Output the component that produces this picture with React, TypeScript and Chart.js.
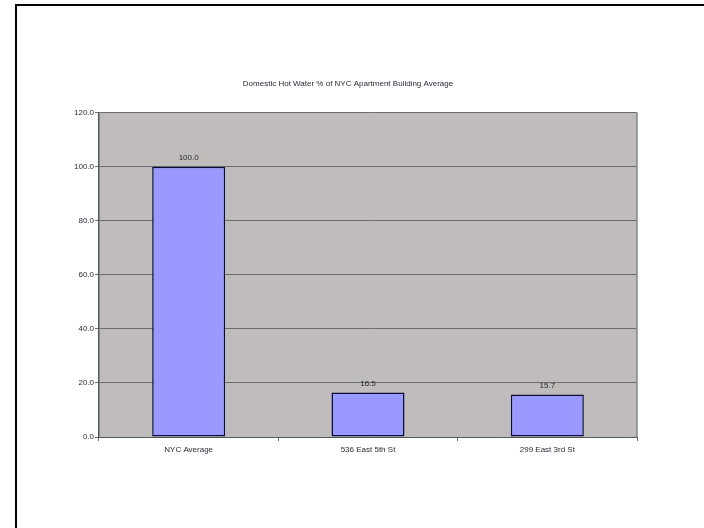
import React, { useEffect, useRef } from "react";
import { Chart, registerables } from "chart.js";

Chart.register(...registerables);

const TITLE = "Domestic Hot Water % of NYC Apartment Building Average";
const CATEGORIES = ["NYC Average", "536 East 5th St", "299 East 3rd St"];
const VALUES = [100.0, 16.5, 15.7];
const Y_MIN = 0;
const Y_MAX = 120;
const Y_STEP = 20;

const FONT = "'Liberation Sans', Arial, sans-serif";
const TEXT = "#1e2530";

const plotBg = {
  id: "plotBg",
  beforeDraw(chart: any) {
    const { ctx, chartArea } = chart;
    ctx.save();
    ctx.fillStyle = "#c0bcbc";
    ctx.fillRect(chartArea.left, chartArea.top, chartArea.right - chartArea.left, chartArea.bottom - chartArea.top);
    ctx.restore();
  },
  afterDraw(chart: any) {
    const { ctx, chartArea } = chart;
    ctx.save();
    ctx.strokeStyle = "#7f8890";
    ctx.lineWidth = 1.5;
    ctx.beginPath();
    ctx.moveTo(chartArea.right, chartArea.top);
    ctx.lineTo(chartArea.right, chartArea.bottom);
    ctx.stroke();
    ctx.restore();
  },
};

const valueLabels = {
  id: "valueLabels",
  afterDatasetsDraw(chart: any) {
    const { ctx } = chart;
    const meta = chart.getDatasetMeta(0);
    const data = chart.data.datasets[0].data as number[];
    ctx.save();
    ctx.font = `8px ${FONT}`;
    ctx.fillStyle = TEXT;
    ctx.textAlign = "center";
    ctx.textBaseline = "bottom";
    meta.data.forEach((el: any, i: number) => {
      ctx.fillText(data[i].toFixed(1), el.x, el.y - 5);
    });
    ctx.restore();
  },
};

export default function App() {
  const ref = useRef<HTMLCanvasElement>(null);
  useEffect(() => {
    if (!ref.current) return;
    const chart = new Chart(ref.current, {
      type: "bar",
      data: {
        labels: CATEGORIES,
        datasets: [
          {
            data: VALUES,
            backgroundColor: "#9999ff",
            borderColor: "#0c0c3a",
            borderWidth: 1.5,
            borderSkipped: false,
            barPercentage: 0.407,
            categoryPercentage: 1,
          },
        ],
      },
      options: {
        responsive: false,
        animation: false,
        layout: { padding: { left: 59, right: 67, top: 70, bottom: 61 } },
        plugins: {
          legend: { display: false },
          tooltip: { enabled: false },
          title: {
            display: true,
            text: TITLE,
            color: TEXT,
            font: { family: FONT, size: 8, weight: "normal" },
            padding: { top: 9, bottom: 24 },
          },
        },
        scales: {
          x: {
            grid: {
              display: true,
              drawOnChartArea: false,
              drawTicks: true,
              tickLength: 4,
              offset: true,
              color: "#6a7078",
            },
            border: { display: true, color: "#505860", width: 1 },
            ticks: {
              color: TEXT,
              font: { family: FONT, size: 8 },
              padding: 4,
              maxRotation: 0,
            },
            afterFit: (s: any) => {
              s.height = 30;
            },
          },
          y: {
            min: Y_MIN,
            max: Y_MAX,
            ticks: {
              stepSize: Y_STEP,
              color: TEXT,
              font: { family: FONT, size: 8 },
              padding: 1,
              callback: (v: any) => Number(v).toFixed(1),
            },
            grid: {
              color: "#686e74",
              lineWidth: 1,
              tickLength: 4,
            },
            border: { display: true, color: "#505860", width: 1.5 },
            afterFit: (s: any) => {
              s.width = 40;
            },
          },
        },
      },
      plugins: [plotBg, valueLabels],
    });
    return () => chart.destroy();
  }, []);

  return (
    <div style={{ position: "fixed", left: 0, top: 0, width: 704, height: 528, overflow: "hidden", background: "#fff" }}>
      <div
        style={{
          position: "absolute",
          left: 15,
          top: 4,
          width: 800,
          height: 600,
          borderLeft: "2px solid #000",
          borderTop: "2px solid #000",
        }}
      />
      <canvas ref={ref} width={704} height={528} style={{ position: "absolute", left: 0, top: 0, width: 704, height: 528 }} />
    </div>
  );
}
